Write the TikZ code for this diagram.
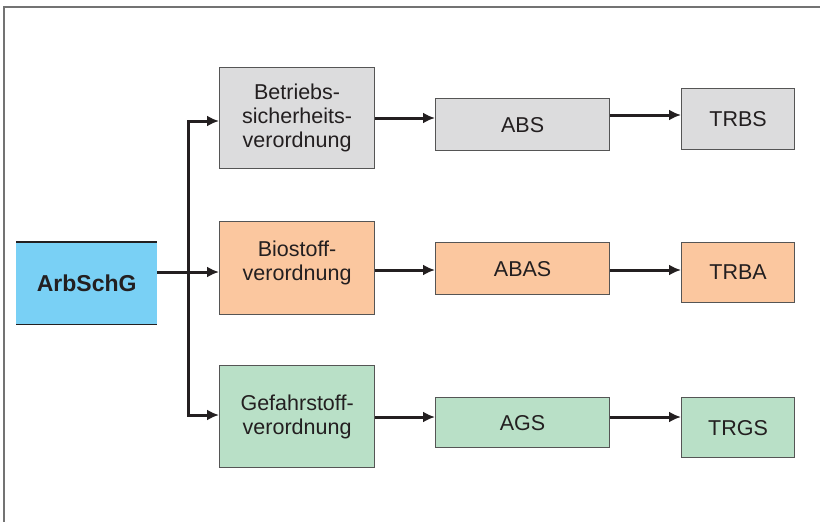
\documentclass[tikz,border=0pt]{standalone}
\usepackage{fontspec}
\setmainfont{Liberation Sans}
\usetikzlibrary{arrows.meta}
\definecolor{greyc}{HTML}{DCDCDD}
\definecolor{peach}{HTML}{FBC79F}
\definecolor{greenc}{HTML}{B9E0C7}
\definecolor{bluec}{HTML}{79D0F5}
\definecolor{edgec}{HTML}{555555}
\definecolor{txt}{HTML}{231F20}
\begin{document}
\begin{tikzpicture}[x=1pt,y=-1pt,
  box/.style={draw=edgec, line width=1.2pt, anchor=north west, inner sep=0pt,
    align=center, text=txt, font=\fontsize{21.5}{24}\selectfont},
  arr/.style={line width=3pt, draw=txt, line join=miter, -{Latex[length=12pt,width=11pt]}},
  frame/.style={draw=black!55, line width=1.6pt}]
\useasboundingbox (0,0) rectangle (820,522);
% frame
\draw[frame] (4,522) -- (4,7) -- (820,7);
% ArbSchG
\node[anchor=north west, fill=bluec, minimum width=141pt, minimum height=82pt, inner sep=0pt,
  text=txt, font=\fontsize{23}{27}\selectfont\bfseries] (arb) at (16,242) {ArbSchG};
\draw[draw=txt, line width=1.2pt] (arb.north west) -- (arb.north east);
\draw[draw=txt, line width=1.2pt] (arb.south west) -- (arb.south east);
% middle column
\node[box, fill=greyc, minimum width=155pt, minimum height=101pt] (bet) at (219,67) {Betriebs-\\sicherheits-\\verordnung};
\node[box, fill=peach, minimum width=155pt, minimum height=93pt] (bio) at (219,221) {Biostoff-\\verordnung\\[-9pt]};
\node[box, fill=greenc, minimum width=155pt, minimum height=102pt] (gef) at (219,365) {Gefahrstoff-\\verordnung};
% committees
\node[box, fill=greyc, minimum width=174pt, minimum height=52pt] (abs) at (435,98) {ABS};
\node[box, fill=peach, minimum width=174pt, minimum height=52pt] (abas) at (435,242) {ABAS};
\node[box, fill=greenc, minimum width=174pt, minimum height=50pt] (ags) at (435,397) {AGS};
% rules
\node[box, fill=greyc, minimum width=113pt, minimum height=61pt] (trbs) at (681,88) {TRBS};
\node[box, fill=peach, minimum width=113pt, minimum height=60pt] (trba) at (681,242) {TRBA};
\node[box, fill=greenc, minimum width=113pt, minimum height=60pt] (trgs) at (681,397) {TRGS};
% connectors
\coordinate (j1) at (188,121);
\coordinate (j3) at (188,415);
\draw[arr] (j3) -- (j1) -- (j1 -| bet.west);
\draw[arr] (j1) -- (j3) -- (j3 -| gef.west);
\draw[arr] (arb.east |- 0,272) -- (bio.west |- 0,272);
\draw[arr] (bet.east |- 0,118) -- (abs.west |- 0,118);
\draw[arr] (bio.east |- 0,270) -- (abas.west |- 0,270);
\draw[arr] (gef.east |- 0,417) -- (ags.west |- 0,417);
\draw[arr] (abs.east |- 0,115) -- (trbs.west |- 0,115);
\draw[arr] (abas.east |- 0,270) -- (trba.west |- 0,270);
\draw[arr] (ags.east |- 0,417) -- (trgs.west |- 0,417);
\end{tikzpicture}
\end{document}
